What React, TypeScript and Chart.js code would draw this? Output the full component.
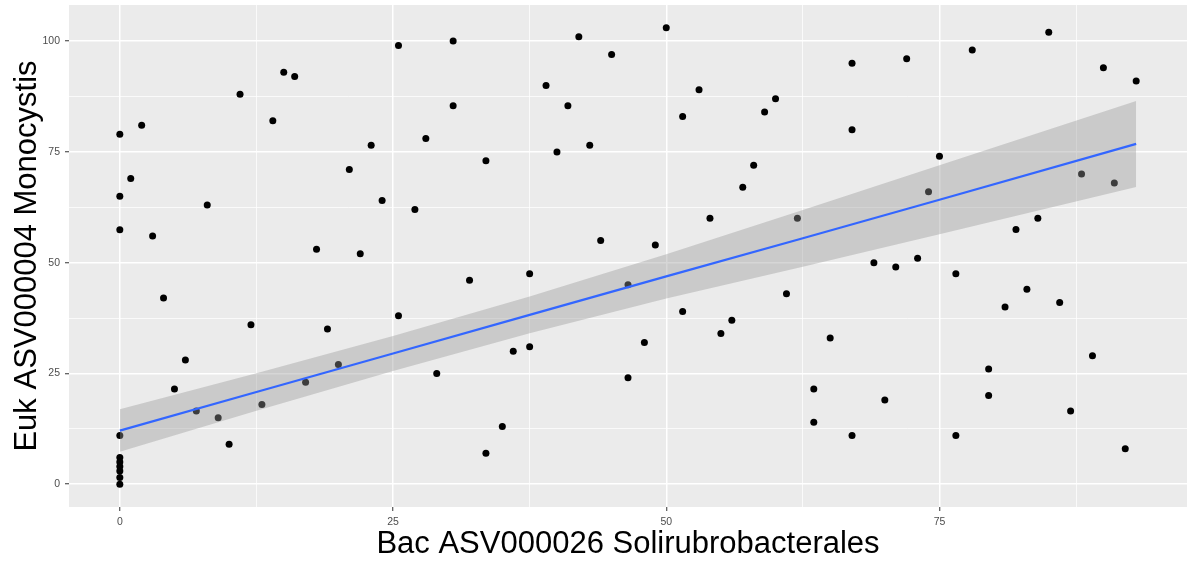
import React, { useEffect, useRef } from 'react';
import { Chart, registerables } from 'chart.js';

Chart.register(...registerables);

// Scatter data: Bac ASV000026 Solirubrobacterales (x) vs Euk ASV000004 Monocystis (y)
const xValues = [
  0, 0, 0, 0, 0, 0, 0, 0, 0, 0,
  1, 2, 3, 4, 5, 6, 7, 8, 9, 10,
  11, 12, 13, 14, 15, 16, 17, 18, 19, 20,
  21, 22, 23, 24, 25.5, 25.5, 27, 28, 29, 30.5, 30.5,
  32, 33.5, 33.5, 35, 36, 37.5, 37.5, 39, 40, 41, 42, 43, 44, 45, 46.5, 46.5, 48, 49,
  50, 51.5, 51.5, 53, 54, 55, 56, 57, 58, 59, 60, 61, 62, 63.5, 63.5, 65, 67, 67, 67, 69, 70, 71, 72, 73, 74, 75,
  76.5, 76.5, 78, 79.5, 79.5, 81, 82, 83, 84, 85, 86, 87, 88, 89, 90, 91, 92, 93,
];
const yValues = [
  79, 65, 57.4, 11, 6, 5, 4, 3, 1.5, 0,
  69, 81, 56, 42, 21.5, 28, 16.5, 63, 15, 9,
  88, 36, 18, 82, 93, 92, 23, 53, 35, 27,
  71, 52, 76.5, 64, 99, 38, 62, 78, 25, 100, 85.4,
  46, 73, 7, 13, 30, 47.5, 31, 90, 75, 85.4, 101, 76.5, 55, 97, 45, 24, 32, 54,
  103, 83, 39, 89, 60, 34, 37, 67, 72, 84, 87, 43, 60, 21.5, 14, 33, 95, 80, 11, 50, 19, 49, 96, 51, 66, 74,
  47.5, 11, 98, 26, 20, 40, 57.5, 44, 60, 102, 41, 16.5, 70, 29, 94, 68, 8, 91,
];

// Fitted line and confidence band
const fitX = [0, 12.5, 25, 37.5, 50, 62.5, 75, 93];
const fitY = [12.1, 20.8, 29.5, 38.2, 46.9, 55.5, 64.2, 76.8];
const bandUpper = [16.9, 25.05, 33.45, 42.35, 51.9, 61.9, 72.0, 86.5];
const bandLower = [7.3, 16.55, 25.55, 34.05, 41.9, 49.1, 56.4, 67.1];

// Axis breaks
const xTicks = [0, 12.5, 25, 37.5, 50, 62.5, 75, 87.5];
const yTicks = [0, 12.5, 25, 37.5, 50, 62.5, 75, 87.5, 100];
const majorStep = 25;

const xTitle = 'Bac ASV000026 Solirubrobacterales';
const yTitle = 'Euk ASV000004 Monocystis';

const FONT = "'Liberation Sans', Arial, sans-serif";

const isMajor = (v: number) => Math.abs(v % majorStep) < 1e-9;

const panelBg = {
  id: 'panelBg',
  beforeDraw(chart: any) {
    const { ctx, chartArea } = chart;
    if (!chartArea) return;
    ctx.save();
    ctx.fillStyle = '#EBEBEB';
    ctx.fillRect(chartArea.left, chartArea.top, chartArea.right - chartArea.left, chartArea.bottom - chartArea.top);
    ctx.restore();
  },
};

export default function App() {
  const canvasRef = useRef<HTMLCanvasElement | null>(null);

  useEffect(() => {
    if (!canvasRef.current) return;
    const points = xValues.map((x, i) => ({ x, y: yValues[i] }));
    const fit = fitX.map((x, i) => ({ x, y: fitY[i] }));
    const up = fitX.map((x, i) => ({ x, y: bandUpper[i] }));
    const lo = fitX.map((x, i) => ({ x, y: bandLower[i] }));

    const gridCommon = {
      color: '#FFFFFF',
      lineWidth: (c: any) => (c.tick && isMajor(c.tick.value) ? 1.5 : 0.75),
      tickColor: (c: any) => (c.tick && isMajor(c.tick.value) ? '#333333' : 'rgba(0,0,0,0)'),
      tickWidth: 1,
      tickLength: 4,
      drawTicks: true,
    };
    const tickCommon = {
      autoSkip: false,
      maxRotation: 0,
      color: '#4D4D4D',
      font: { family: FONT, size: 10.5 },
      callback: (v: any) => (isMajor(Number(v)) ? String(v) : ''),
    };

    const chart = new Chart(canvasRef.current, {
      type: 'scatter',
      data: {
        datasets: [
          {
            type: 'line',
            data: fit,
            borderColor: '#3366FF',
            borderWidth: 2.2,
            pointRadius: 0,
            fill: false,
            tension: 0,
            order: 0,
          } as any,
          {
            type: 'line',
            data: up,
            borderWidth: 0,
            borderColor: 'rgba(0,0,0,0)',
            backgroundColor: 'rgba(153,153,153,0.4)',
            pointRadius: 0,
            fill: '+1',
            tension: 0,
            order: 1,
          } as any,
          {
            type: 'line',
            data: lo,
            borderWidth: 0,
            borderColor: 'rgba(0,0,0,0)',
            pointRadius: 0,
            fill: false,
            tension: 0,
            order: 1,
          } as any,
          {
            type: 'scatter',
            data: points,
            backgroundColor: '#000000',
            borderWidth: 0,
            pointRadius: 3.5,
            order: 2,
          } as any,
        ],
      },
      options: {
        responsive: false,
        animation: false,
        events: [],
        layout: { padding: { left: 0, right: 0, top: 5, bottom: 0 } },
        plugins: {
          legend: { display: false },
          tooltip: { enabled: false },
        },
        scales: {
          x: {
            type: 'linear',
            min: -4.65,
            max: 97.65,
            afterBuildTicks: (s: any) => {
              s.ticks = xTicks.map((v) => ({ value: v }));
            },
            afterFit: (s: any) => {
              s.height = 54;
              s.paddingLeft = 0;
              s.paddingRight = 0;
            },
            ticks: { ...tickCommon, padding: 5 },
            grid: gridCommon,
            border: { display: false },
            title: {
              display: true,
              text: xTitle,
              color: '#000000',
              font: { family: FONT, size: 31, lineHeight: 1 },
              padding: { top: 0, bottom: 1.5 },
            },
          },
          y: {
            type: 'linear',
            min: -5.15,
            max: 108.15,
            afterBuildTicks: (s: any) => {
              s.ticks = yTicks.map((v) => ({ value: v }));
            },
            afterFit: (s: any) => {
              s.width = 69;
              s.paddingTop = 0;
              s.paddingBottom = 0;
            },
            ticks: { ...tickCommon, padding: 5 },
            grid: gridCommon,
            border: { display: false },
            title: {
              display: true,
              text: yTitle,
              color: '#000000',
              font: { family: FONT, size: 31, lineHeight: 1 },
              padding: { top: 12, bottom: 0 },
            },
          },
        },
      } as any,
      plugins: [panelBg],
    });
    return () => chart.destroy();
  }, []);

  return (
    <div
      style={{
        position: 'absolute',
        left: 0,
        top: 0,
        width: 1187,
        height: 561,
        overflow: 'hidden',
        background: '#FFFFFF',
      }}
    >
      <canvas ref={canvasRef} width={1191} height={561} style={{ display: 'block', width: 1191, height: 561 }} />
    </div>
  );
}
